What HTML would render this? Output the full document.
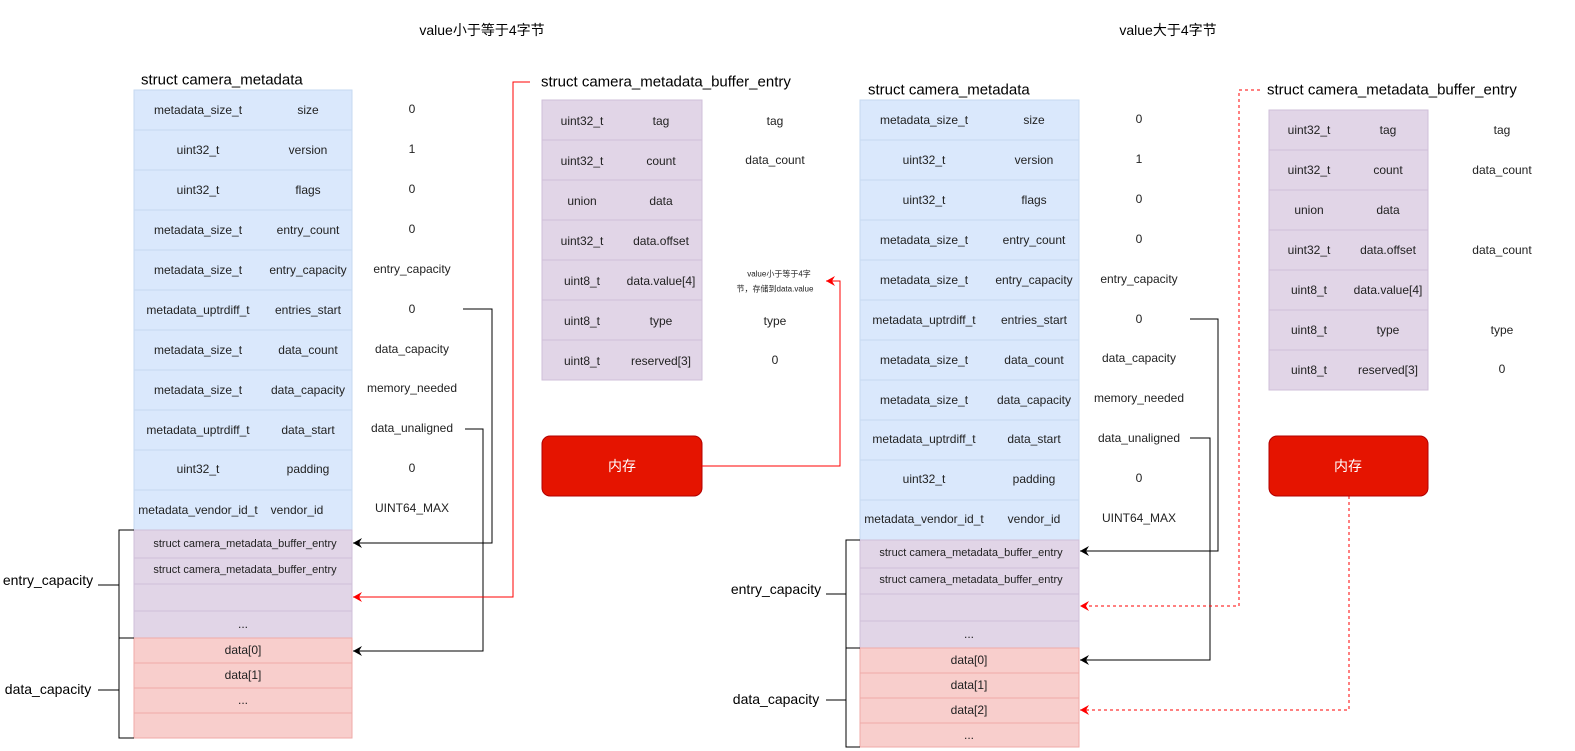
<!DOCTYPE html>
<html><head><meta charset="utf-8"><style>
html,body{margin:0;padding:0;background:#fff;}
svg{display:block;}
text{font-family:"Liberation Sans","Noto Sans CJK SC",sans-serif;font-size:12px;fill:#222;text-anchor:middle;dominant-baseline:central;}
.t{font-size:15px;text-anchor:start;fill:#000;}
.h{font-size:14px;fill:#000;}
.w{fill:#fff;font-size:14px;}
.s{font-size:8px;}
</style></head><body>
<svg width="1575" height="751" viewBox="0 0 1575 751" xmlns="http://www.w3.org/2000/svg">
<defs>
<marker id="ab" markerWidth="10" markerHeight="10" refX="9" refY="5" orient="auto" markerUnits="userSpaceOnUse"><path d="M0,0 L9,5 L0,10 L3,5 z" fill="#000"/></marker>
<marker id="ar" markerWidth="10" markerHeight="10" refX="9" refY="5" orient="auto" markerUnits="userSpaceOnUse"><path d="M0,0 L9,5 L0,10 L3,5 z" fill="#f00"/></marker>
</defs>

<text x="482" y="30" class="h">value小于等于4字节</text>
<text x="1168" y="30" class="h">value大于4字节</text>

<!-- LEFT metadata -->
<text x="141" y="80" class="t">struct camera_metadata</text>
<g fill="#dae8fc" stroke="#c6d9f1">
<rect x="134" y="90" width="218" height="40"/><rect x="134" y="130" width="218" height="40"/><rect x="134" y="170" width="218" height="40"/><rect x="134" y="210" width="218" height="40"/><rect x="134" y="250" width="218" height="40"/><rect x="134" y="290" width="218" height="40"/><rect x="134" y="330" width="218" height="40"/><rect x="134" y="370" width="218" height="40"/><rect x="134" y="410" width="218" height="40"/><rect x="134" y="450" width="218" height="40"/><rect x="134" y="490" width="218" height="40"/>
</g>
<g fill="#e1d5e7" stroke="#cfbfd9">
<rect x="134" y="530" width="218" height="28"/><rect x="134" y="558" width="218" height="26"/><rect x="134" y="584" width="218" height="27"/><rect x="134" y="611" width="218" height="27"/>
</g>
<g fill="#f8cecc" stroke="#efaaa7">
<rect x="134" y="638" width="218" height="25"/><rect x="134" y="663" width="218" height="25"/><rect x="134" y="688" width="218" height="25"/><rect x="134" y="713" width="218" height="25"/>
</g>
<g>
<text x="198" y="110">metadata_size_t</text><text x="308" y="110">size</text><text x="412" y="109">0</text>
<text x="198" y="150">uint32_t</text><text x="308" y="150">version</text><text x="412" y="149">1</text>
<text x="198" y="190">uint32_t</text><text x="308" y="190">flags</text><text x="412" y="189">0</text>
<text x="198" y="230">metadata_size_t</text><text x="308" y="230">entry_count</text><text x="412" y="229">0</text>
<text x="198" y="270">metadata_size_t</text><text x="308" y="270">entry_capacity</text><text x="412" y="269">entry_capacity</text>
<text x="198" y="310">metadata_uptrdiff_t</text><text x="308" y="310">entries_start</text><text x="412" y="309">0</text>
<text x="198" y="350">metadata_size_t</text><text x="308" y="350">data_count</text><text x="412" y="349">data_capacity</text>
<text x="198" y="390">metadata_size_t</text><text x="308" y="390">data_capacity</text><text x="412" y="388">memory_needed</text>
<text x="198" y="430">metadata_uptrdiff_t</text><text x="308" y="430">data_start</text><text x="412" y="428">data_unaligned</text>
<text x="198" y="469">uint32_t</text><text x="308" y="469">padding</text><text x="412" y="468">0</text>
<text x="198" y="510">metadata_vendor_id_t</text><text x="297" y="510">vendor_id</text><text x="412" y="508">UINT64_MAX</text>
<text x="245" y="544" style="font-size:11px">struct camera_metadata_buffer_entry</text>
<text x="245" y="570" style="font-size:11px">struct camera_metadata_buffer_entry</text>
<text x="243" y="624">...</text>
<text x="243" y="650">data[0]</text><text x="243" y="675">data[1]</text><text x="243" y="700">...</text>
</g>
<g stroke="#000" fill="none" stroke-width="1">
<path d="M134,530 H119 V638 H134"/><path d="M98,585 H119"/>
<path d="M134,638 H119 V738 H134"/><path d="M98,690 H119"/>
<path d="M463,309 H492 V543 H353" marker-end="url(#ab)"/>
<path d="M465,429 H483 V651 H353" marker-end="url(#ab)"/>
</g>
<text x="48" y="580" class="h">entry_capacity</text>
<text x="48" y="689" class="h">data_capacity</text>
<path d="M530,82 H513 V597 H353" stroke="#f00" fill="none" marker-end="url(#ar)"/>

<!-- MIDDLE entry -->
<text x="541" y="82" class="t">struct camera_metadata_buffer_entry</text>
<g fill="#e1d5e7" stroke="#cfbfd9">
<rect x="542" y="100" width="160" height="40"/><rect x="542" y="140" width="160" height="40"/><rect x="542" y="180" width="160" height="40"/><rect x="542" y="220" width="160" height="40"/><rect x="542" y="260" width="160" height="40"/><rect x="542" y="300" width="160" height="40"/><rect x="542" y="340" width="160" height="40"/>
</g>
<text x="582" y="121">uint32_t</text><text x="661" y="121">tag</text><text x="775" y="121">tag</text>
<text x="582" y="161">uint32_t</text><text x="661" y="161">count</text><text x="775" y="160">data_count</text>
<text x="582" y="201">union</text><text x="661" y="201">data</text>
<text x="582" y="241">uint32_t</text><text x="661" y="241">data.offset</text>
<text x="582" y="281">uint8_t</text><text x="661" y="281">data.value[4]</text>
<text x="779" y="274" class="s">value小于等于4字</text><text x="775" y="289" class="s">节，存储到data.value</text>
<text x="582" y="321">uint8_t</text><text x="661" y="321">type</text><text x="775" y="321">type</text>
<text x="582" y="361">uint8_t</text><text x="661" y="361">reserved[3]</text><text x="775" y="360">0</text>
<rect x="542" y="436" width="160" height="60" rx="8" fill="#e51400" stroke="#b20000"/>
<text x="622" y="466" class="w">内存</text>
<path d="M702,466 H840 V281 H826" stroke="#f00" fill="none" marker-end="url(#ar)"/>

<!-- RIGHT metadata -->
<text x="868" y="90" class="t">struct camera_metadata</text>
<g fill="#dae8fc" stroke="#c6d9f1">
<rect x="860" y="100" width="219" height="40"/><rect x="860" y="140" width="219" height="40"/><rect x="860" y="180" width="219" height="40"/><rect x="860" y="220" width="219" height="40"/><rect x="860" y="260" width="219" height="40"/><rect x="860" y="300" width="219" height="40"/><rect x="860" y="340" width="219" height="40"/><rect x="860" y="380" width="219" height="40"/><rect x="860" y="420" width="219" height="40"/><rect x="860" y="460" width="219" height="40"/><rect x="860" y="500" width="219" height="40"/>
</g>
<g fill="#e1d5e7" stroke="#cfbfd9">
<rect x="860" y="540" width="219" height="28"/><rect x="860" y="568" width="219" height="26"/><rect x="860" y="594" width="219" height="27"/><rect x="860" y="621" width="219" height="27"/>
</g>
<g fill="#f8cecc" stroke="#efaaa7">
<rect x="860" y="648" width="219" height="25"/><rect x="860" y="673" width="219" height="25"/><rect x="860" y="698" width="219" height="25"/><rect x="860" y="723" width="219" height="24"/>
</g>
<text x="924" y="120">metadata_size_t</text><text x="1034" y="120">size</text><text x="1139" y="119">0</text>
<text x="924" y="160">uint32_t</text><text x="1034" y="160">version</text><text x="1139" y="159">1</text>
<text x="924" y="200">uint32_t</text><text x="1034" y="200">flags</text><text x="1139" y="199">0</text>
<text x="924" y="240">metadata_size_t</text><text x="1034" y="240">entry_count</text><text x="1139" y="239">0</text>
<text x="924" y="280">metadata_size_t</text><text x="1034" y="280">entry_capacity</text><text x="1139" y="279">entry_capacity</text>
<text x="924" y="320">metadata_uptrdiff_t</text><text x="1034" y="320">entries_start</text><text x="1139" y="319">0</text>
<text x="924" y="360">metadata_size_t</text><text x="1034" y="360">data_count</text><text x="1139" y="358">data_capacity</text>
<text x="924" y="400">metadata_size_t</text><text x="1034" y="400">data_capacity</text><text x="1139" y="398">memory_needed</text>
<text x="924" y="439">metadata_uptrdiff_t</text><text x="1034" y="439">data_start</text><text x="1139" y="438">data_unaligned</text>
<text x="924" y="479">uint32_t</text><text x="1034" y="479">padding</text><text x="1139" y="478">0</text>
<text x="924" y="519">metadata_vendor_id_t</text><text x="1034" y="519">vendor_id</text><text x="1139" y="518">UINT64_MAX</text>
<text x="971" y="553" style="font-size:11px">struct camera_metadata_buffer_entry</text>
<text x="971" y="580" style="font-size:11px">struct camera_metadata_buffer_entry</text>
<text x="969" y="634">...</text>
<text x="969" y="660">data[0]</text><text x="969" y="685">data[1]</text><text x="969" y="710">data[2]</text><text x="969" y="735">...</text>
<g stroke="#000" fill="none">
<path d="M860,540 H846 V648 H860"/><path d="M826,594 H846"/>
<path d="M860,648 H846 V747 H860"/><path d="M826,700 H846"/>
<path d="M1190,319 H1218 V551 H1080" marker-end="url(#ab)"/>
<path d="M1190,438 H1210 V660 H1080" marker-end="url(#ab)"/>
</g>
<text x="776" y="589" class="h">entry_capacity</text>
<text x="776" y="699" class="h">data_capacity</text>
<g stroke="#f00" fill="none" stroke-dasharray="3,3">
<path d="M1260,90 H1239 V606 H1080" marker-end="url(#ar)"/>
<path d="M1349,496 V710 H1080" marker-end="url(#ar)"/>
</g>

<!-- RIGHT entry -->
<text x="1267" y="90" class="t">struct camera_metadata_buffer_entry</text>
<g fill="#e1d5e7" stroke="#cfbfd9">
<rect x="1269" y="110" width="159" height="40"/><rect x="1269" y="150" width="159" height="40"/><rect x="1269" y="190" width="159" height="40"/><rect x="1269" y="230" width="159" height="40"/><rect x="1269" y="270" width="159" height="40"/><rect x="1269" y="310" width="159" height="40"/><rect x="1269" y="350" width="159" height="40"/>
</g>
<text x="1309" y="130">uint32_t</text><text x="1388" y="130">tag</text><text x="1502" y="130">tag</text>
<text x="1309" y="170">uint32_t</text><text x="1388" y="170">count</text><text x="1502" y="170">data_count</text>
<text x="1309" y="210">union</text><text x="1388" y="210">data</text>
<text x="1309" y="250">uint32_t</text><text x="1388" y="250">data.offset</text><text x="1502" y="250">data_count</text>
<text x="1309" y="290">uint8_t</text><text x="1388" y="290">data.value[4]</text>
<text x="1309" y="330">uint8_t</text><text x="1388" y="330">type</text><text x="1502" y="330">type</text>
<text x="1309" y="370">uint8_t</text><text x="1388" y="370">reserved[3]</text><text x="1502" y="369">0</text>
<rect x="1269" y="436" width="159" height="60" rx="8" fill="#e51400" stroke="#b20000"/>
<text x="1348" y="466" class="w">内存</text>
</svg>
</body></html>
